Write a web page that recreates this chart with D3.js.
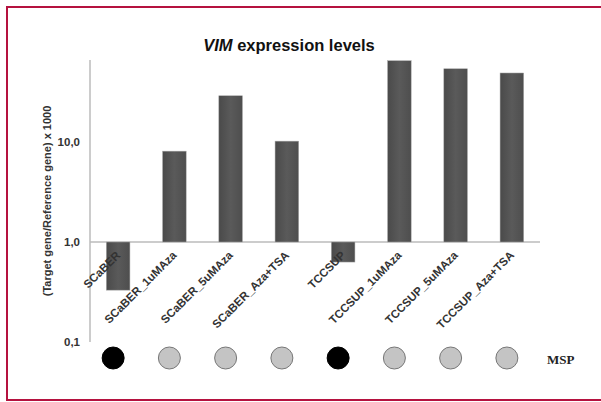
<!DOCTYPE html>
<html>
<head>
<meta charset="utf-8">
<script src="https://d3js.org/d3.v7.min.js"></script>
<style>
    body { margin: 0; background: #fff; }
    text { font-family: "Liberation Sans", Arial, sans-serif; }
    .tick-label { font-size: 11.5px; font-weight: bold; fill: #333; }
    .cat-label { font-size: 11.5px; font-weight: bold; fill: #333; }
</style>
</head>
<body>
<svg id="chart" width="601" height="402"></svg>
<script>
    // sample names
    const categories = ["SCaBER", "SCaBER_1uMAza", "SCaBER_5uMAza", "SCaBER_Aza+TSA",
                        "TCCSUP", "TCCSUP_1uMAza", "TCCSUP_5uMAza", "TCCSUP_Aza+TSA"];
    // (target/reference) x 1000
    const values = [0.33, 8.1, 29, 10.2, 0.63, 65, 54, 49];
    // MSP result: true = methylated (black dot)
    const methylated = [true, false, false, false, true, false, false, false];
    const tickValues = [0.1, 1, 10];
    const tickLabels = ["0,1", "1,0", "10,0"];

    const svg = d3.select("#chart");

    // frame (top + left + bottom, crimson)
    svg.append("path")
        .attr("d", "M603,7 H7 V400 H603")
        .attr("fill", "none")
        .attr("stroke", "#b5123f")
        .attr("stroke-width", 2);

    const x = d3.scaleBand().domain(categories).range([90, 540]).paddingInner(0.58).paddingOuter(0.29);
    const y = d3.scaleLog().domain([0.1, 100]).range([342, 42]);

    // bar gradient
    const grad = svg.append("defs").append("linearGradient").attr("id", "barGrad");
    grad.append("stop").attr("offset", "0%").attr("stop-color", "#4a4a4a");
    grad.append("stop").attr("offset", "50%").attr("stop-color", "#5a5a5a");
    grad.append("stop").attr("offset", "100%").attr("stop-color", "#4e4e4e");

    // title
    const title = svg.append("text")
        .attr("x", 289).attr("y", 51)
        .attr("text-anchor", "middle")
        .style("font-size", "16.5px").style("font-weight", "bold").style("fill", "#111");
    title.append("tspan").style("font-style", "italic").text("VIM");
    title.append("tspan").text(" expression levels");

    // y axis line
    svg.append("line")
        .attr("x1", 90).attr("x2", 90)
        .attr("y1", 60).attr("y2", y(0.1))
        .attr("stroke", "#bbb").attr("stroke-width", 1.5);

    // baseline at 1
    svg.append("line")
        .attr("x1", 90).attr("x2", 540)
        .attr("y1", y(1)).attr("y2", y(1))
        .attr("stroke", "#bbb").attr("stroke-width", 1.5);

    // tick labels
    svg.selectAll("text.tick-label").data(tickValues)
        .join("text")
        .attr("class", "tick-label")
        .attr("x", 80)
        .attr("y", d => y(d) + 4)
        .attr("text-anchor", "end")
        .text((d, i) => tickLabels[i]);

    // y axis title
    svg.append("text")
        .attr("transform", "translate(51,201) rotate(-90)")
        .attr("text-anchor", "middle")
        .style("font-size", "11px").style("font-weight", "bold").style("fill", "#333")
        .text("(Target gene/Reference gene) x 1000");

    // bars grow from 1,0 up or down
    svg.selectAll("rect.bar").data(values)
        .join("rect")
        .attr("class", "bar")
        .attr("x", (d, i) => x(categories[i]))
        .attr("width", x.bandwidth())
        .attr("y", d => Math.min(y(d), y(1)))
        .attr("height", d => Math.abs(y(d) - y(1)))
        .attr("fill", "url(#barGrad)")
        .attr("stroke", "#aaa")
        .attr("stroke-width", 0.5);

    // rotated category labels
    svg.selectAll("text.cat-label").data(categories)
        .join("text")
        .attr("class", "cat-label")
        .attr("text-anchor", "end")
        .attr("transform", d => "translate(" + (x(d) + x.bandwidth() / 2 + 3) + "," + 256 + ") rotate(-45)")
        .text(d => d);

    // MSP dots
    svg.selectAll("circle.msp").data(methylated)
        .join("circle")
        .attr("class", "msp")
        .attr("cx", (d, i) => x(categories[i]) + x.bandwidth() / 2 - 5)
        .attr("cy", 358)
        .attr("r", 11)
        .attr("fill", d => d ? "#000" : "#c4c4c4")
        .attr("stroke", d => d ? "#000" : "#777")
        .attr("stroke-width", 1);

    svg.append("text")
        .attr("x", 547).attr("y", 364)
        .style("font-family", "'Liberation Serif', 'Times New Roman', serif")
        .style("font-size", "13px").style("font-weight", "bold").style("fill", "#222")
        .text("MSP");
</script>
</body>
</html>
